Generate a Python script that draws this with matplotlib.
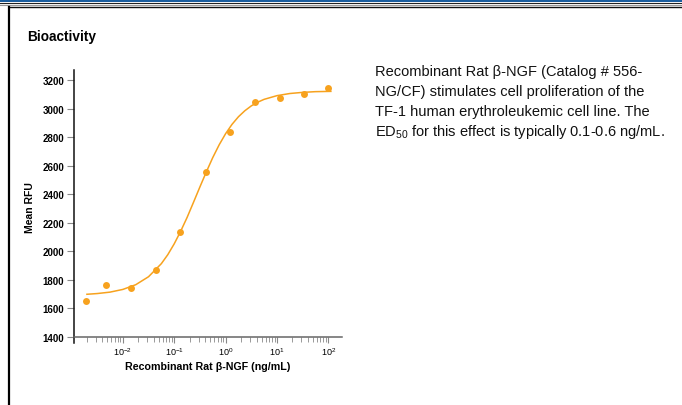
import matplotlib
matplotlib.use("Agg")
import matplotlib.pyplot as plt
from matplotlib.lines import Line2D
from matplotlib.patches import Rectangle
from matplotlib.ticker import LogLocator, FixedLocator, NullFormatter

plt.rcParams['font.family'] = ['Liberation Sans', 'DejaVu Sans']
plt.rcParams['mathtext.fontset'] = 'custom'
plt.rcParams['mathtext.rm'] = 'Liberation Sans'
plt.rcParams['mathtext.it'] = 'Liberation Sans:italic'
plt.rcParams['mathtext.bf'] = 'Liberation Sans:bold'

# measured points
conc = [0.0019, 0.0048, 0.0143, 0.0447, 0.132, 0.41, 1.23, 3.7, 11.4, 33.9, 100]
rfu = [1652, 1763, 1742, 1868, 2133, 2556, 2834, 3049, 3073, 3105, 3143]

# fitted curve
fit_conc = [0.0020, 0.00316, 0.00562, 0.01, 0.0178, 0.0316, 0.0562, 0.075,
            0.1, 0.133, 0.178, 0.237, 0.316, 0.422, 0.562, 0.75, 1.0,
            1.33, 1.78, 2.37, 3.16, 4.22, 5.62, 10, 17.8, 31.6, 56.2, 112]
fit_rfu = [1698, 1703, 1713, 1732, 1765, 1821, 1913, 1976,
           2052, 2139, 2237, 2343, 2451, 2557, 2657, 2747, 2825,
           2890, 2944, 2986, 3020, 3046, 3066, 3092, 3107, 3115, 3120, 3122]

yticks = [1400, 1600, 1800, 2000, 2200, 2400, 2600, 2800, 3000, 3200]
xticks = [1e-2, 1e-1, 1e0, 1e1, 1e2]
xlabels = ['$10^{-2}$', '$10^{-1}$', '$10^{0}$', '$10^{1}$', '$10^{2}$']

W, H = 682, 406
orange = '#f7a21e'

fig = plt.figure(figsize=(W / 100, H / 100), dpi=100)

def fx(px):
    return px / W

def fy(py):
    return 1 - py / H

# page frame: blue bar and lines on top, box border
fig.add_artist(Rectangle((0, fy(3.4)), 1, 3.4 / H, transform=fig.transFigure,
                         color='#1a5d9e', lw=0))
fig.add_artist(Line2D([0, 1], [fy(4.2), fy(4.2)], transform=fig.transFigure,
                      color='#222222', lw=0.8))
fig.add_artist(Line2D([0, 1], [fy(6.0), fy(6.0)], transform=fig.transFigure,
                      color='#999999', lw=0.8))
fig.add_artist(Line2D([fx(8.5), 1], [fy(8.3), fy(8.3)], transform=fig.transFigure,
                      color='#111111', lw=1.0))
fig.add_artist(Line2D([fx(9), fx(9)], [fy(8.3), 0], transform=fig.transFigure,
                      color='#000000', lw=1.6))

fig.text(fx(27), fy(41), 'Bioactivity', fontsize=9.8, fontweight='bold',
         va='baseline', ha='left')

lines = ['Recombinant Rat \u03b2-NGF (Catalog # 556-',
         'NG/CF) stimulates cell proliferation of the',
         'TF-1 human erythroleukemic cell line. The',
         'ED$_{50}$ for this effect is typically 0.1-0.6 ng/mL.']
for i, t in enumerate(lines):
    fig.text(fx(375), fy(76 + i * 20), t, fontsize=10.5, va='baseline', ha='left',
             color='#111111')

# axes in pixel placement
ax_l, ax_r, ax_t, ax_b = 74, 341.7, 71, 344
ax = fig.add_axes([fx(ax_l), fy(ax_b), (ax_r - ax_l) / W, (ax_b - ax_t) / H])
ax.set_xscale('log')
ax.set_xlim(0.00112, 182)
ax.set_ylim(1356, 3272)

ax.plot(fit_conc, fit_rfu, color=orange, lw=1.1, zorder=2)
ax.plot(conc, rfu, 'o', color=orange, ms=5, mec='none', zorder=3)

for s in ['top', 'right']:
    ax.spines[s].set_visible(False)
ax.spines['left'].set_color('#111111')
ax.spines['left'].set_linewidth(1.1)
ax.spines['bottom'].set_position(('data', 1400))
ax.spines['bottom'].set_color('#666666')
ax.spines['bottom'].set_linewidth(1.1)

ax.yaxis.set_major_locator(FixedLocator(yticks))
ax.set_yticklabels([str(v) for v in yticks], fontsize=7, fontweight='bold')
ax.tick_params(axis='y', length=5, width=0.8, color='#888888', pad=2)

ax.xaxis.set_major_locator(FixedLocator(xticks))
ax.set_xticklabels(xlabels, fontsize=6.5)
ax.xaxis.set_minor_locator(LogLocator(base=10, subs=range(2, 10), numticks=20))
ax.xaxis.set_minor_formatter(NullFormatter())
ax.tick_params(axis='x', which='major', length=4, width=0.8, color='#888888', pad=2)
ax.tick_params(axis='x', which='minor', length=3.5, width=0.7, color='#999999')

ax.set_xlabel('Recombinant Rat \u03b2-NGF (ng/mL)', fontsize=7.7, fontweight='bold',
              labelpad=3)
ax.set_ylabel('Mean RFU', fontsize=7.5, fontweight='bold')
ax.yaxis.set_label_coords(fx(35 - ax_l) / ((ax_r - ax_l) / W), 0.5)

fig.savefig('out.png', dpi=100)
